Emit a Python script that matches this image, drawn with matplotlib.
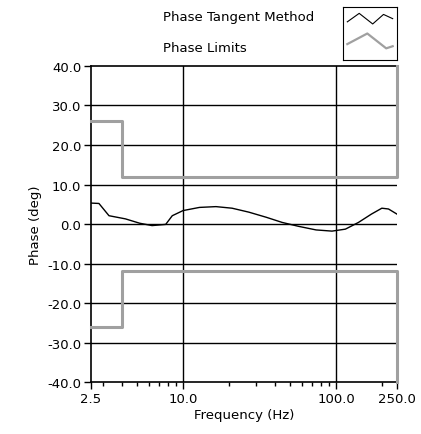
import numpy as np
import matplotlib
matplotlib.use('Agg')
import matplotlib.pyplot as plt
from matplotlib.ticker import FixedLocator, NullFormatter

# phase tangent method curve (Hz, deg)
freq = [2.5, 2.82, 3.28, 4.2, 5.2, 6.27, 7.7, 8.5, 10.0, 12.8, 16.4, 20.9, 26.9,
        35.0, 44.4, 57.0, 74.0, 94.0, 115.0, 140.0, 170.0, 199.0, 220.0, 250.0]
phase = [5.3, 5.2, 2.1, 1.3, 0.2, -0.4, -0.1, 2.1, 3.4, 4.2, 4.4, 4.0, 3.0,
         1.7, 0.4, -0.6, -1.5, -1.8, -1.3, 0.4, 2.5, 4.0, 3.8, 2.5]

# phase limits
lim_f = [2.5, 4.0, 4.0, 250.0, 250.0]
lim_up = [26, 26, 12, 12, 40]
lim_lo = [-26, -26, -12, -12, -40]

yticks = [40, 30, 20, 10, 0, -10, -20, -30, -40]
xticks = [2.5, 10, 100, 250]
xminor = [3, 4, 5, 6, 7, 8, 9, 20, 30, 40, 50, 60, 70, 80, 90, 200]

fs = 9.5
fig = plt.figure(figsize=(4.21, 4.35), dpi=100)
ax = fig.add_axes([0.216, 0.1195, 0.727, 0.7265])

ax.plot(lim_f, lim_up, color='#a0a0a0', lw=2.2, clip_on=False, zorder=4)
ax.plot(lim_f, lim_lo, color='#a0a0a0', lw=2.2, clip_on=False, zorder=4)
ax.plot(freq, phase, color='black', lw=1.0)

ax.set_xscale('log')
ax.set_xlim(2.5, 250)
ax.set_ylim(-40, 40)
ax.xaxis.set_major_locator(FixedLocator(xticks))
ax.xaxis.set_minor_locator(FixedLocator(xminor))
ax.xaxis.set_minor_formatter(NullFormatter())
ax.set_xticklabels(['2.5', '10.0', '100.0', '250.0'], fontsize=fs)
ax.set_yticks(yticks)
ax.set_yticklabels(['%.1f' % v for v in yticks], fontsize=fs)
ax.tick_params(axis='both', which='major', length=5, width=1, direction='out', pad=2)
ax.tick_params(axis='x', which='minor', length=3, width=1, direction='out')

for v in yticks[1:-1]:
    ax.axhline(v, color='black', lw=1, zorder=0)
for v in [10, 100]:
    ax.axvline(v, color='black', lw=1, zorder=0)

for s in ax.spines.values():
    s.set_linewidth(1.2)
ax.spines['right'].set_visible(False)

ax.set_xlabel('Frequency (Hz)', fontsize=fs, labelpad=2)
ax.set_ylabel('Phase (deg)', fontsize=fs, labelpad=4)

# legend
fig.text(163 / 421, 1 - 17 / 435, 'Phase Tangent Method', fontsize=fs, va='center')
fig.text(163 / 421, 1 - 49 / 435, 'Phase Limits', fontsize=fs, va='center')
lax = fig.add_axes([343 / 421, 1 - 61 / 435, 54 / 421, 53 / 435])
lax.set_xlim(0, 1)
lax.set_ylim(0, 1)
lax.set_xticks([])
lax.set_yticks([])
lax.plot([0.08, 0.3, 0.55, 0.75, 0.92], [0.72, 0.88, 0.68, 0.86, 0.78], color='black', lw=0.8)
lax.plot([0.08, 0.45, 0.8, 0.92], [0.3, 0.5, 0.22, 0.26], color='#a0a0a0', lw=1.6)

fig.savefig('out.png', dpi=100)
